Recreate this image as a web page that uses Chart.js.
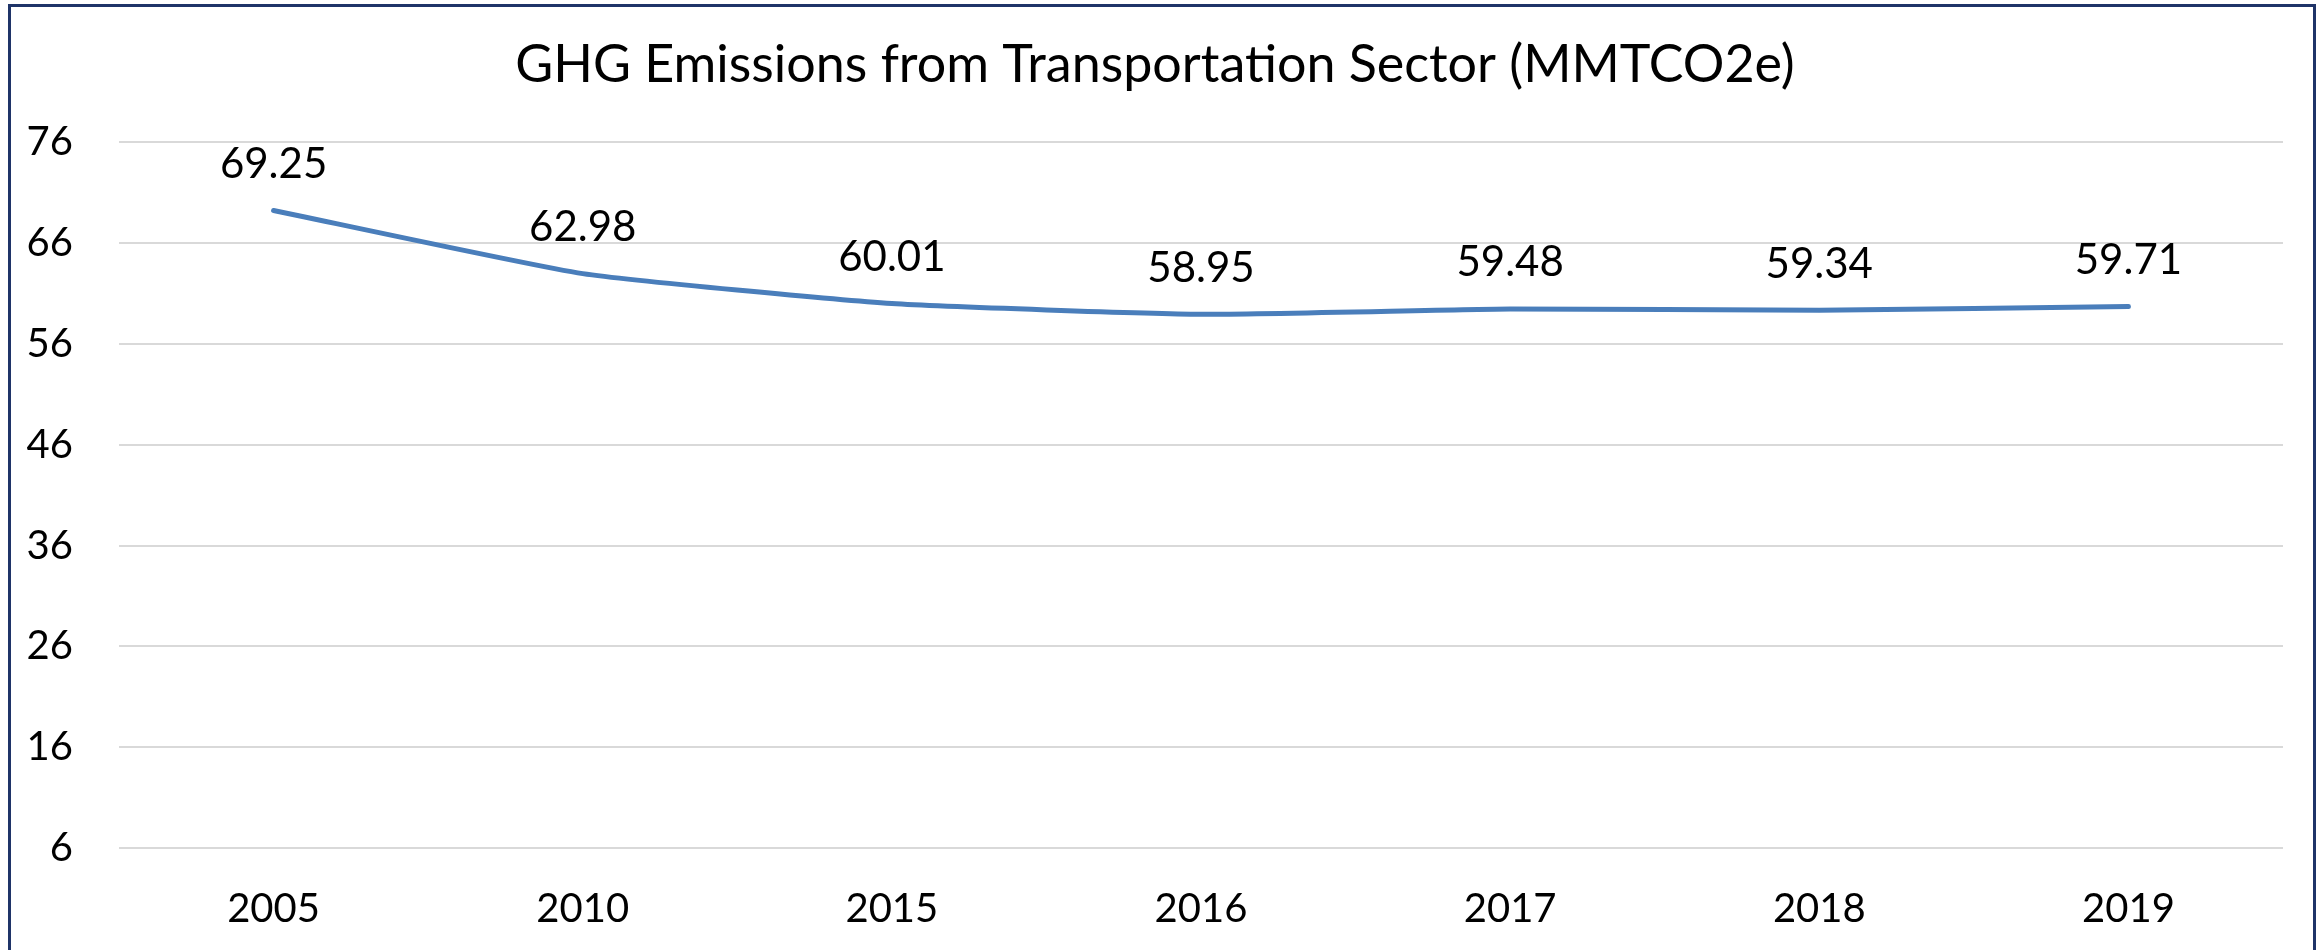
<!DOCTYPE html>
<html lang="en">
<head>
  <meta charset="UTF-8" />
  <title>GHG Emissions from Transportation Sector</title>
  <style>
    html, body {
      margin: 0;
      padding: 0;
      background: white;
      overflow: hidden;
    }
    #wrap {
      position: relative;
      width: 2323px;
      height: 950px;
    }
    #frame {
      position: absolute;
      left: 8px;
      top: 4px;
      width: 2302px;
      height: 1000px;
      border: 3px solid #1f3468;
      pointer-events: none;
    }
  </style>
</head>
<body>
  <div id="wrap">
    <canvas id="ghgChart" width="2323" height="950"></canvas>
    <div id="frame"></div>
  </div>

  <script src="https://cdn.jsdelivr.net/npm/chart.js"></script>
  <script>
    const years = ['2005', '2010', '2015', '2016', '2017', '2018', '2019'];
    const emissions = [69.25, 62.98, 60.01, 58.95, 59.48, 59.34, 59.71];
    const yTicks = [6, 16, 26, 36, 46, 56, 66, 76];

    const fontFamily = 'Lato, "Open Sans", sans-serif';

    // draws the value above each point, like the excel data labels
    const valueLabels = {
      id: 'valueLabels',
      afterDatasetsDraw(chart) {
        const ctx = chart.ctx;
        const meta = chart.getDatasetMeta(0);
        ctx.save();
        ctx.font = '42px ' + fontFamily;
        ctx.fillStyle = '#000';
        ctx.textAlign = 'center';
        ctx.textBaseline = 'middle';
        meta.data.forEach((pt, i) => {
          ctx.fillText(emissions[i].toFixed(2), pt.x, pt.y - 46);
        });
        ctx.restore();
      }
    };

    new Chart(document.getElementById('ghgChart').getContext('2d'), {
      type: 'line',
      data: {
        labels: years,
        datasets: [{
          label: 'MMTCO2e',
          data: emissions,
          borderColor: '#4a7ebb',
          borderWidth: 5,
          borderCapStyle: 'round',
          borderJoinStyle: 'round',
          pointRadius: 0,
          tension: 0.15,
          fill: false
        }]
      },
      options: {
        responsive: false,
        animation: false,
        layout: {
          padding: { left: 27, right: 40, top: 0, bottom: 0 }
        },
        plugins: {
          legend: { display: false },
          tooltip: { enabled: false },
          title: {
            display: true,
            text: 'GHG Emissions from Transportation Sector (MMTCO2e)',
            color: '#000',
            font: { family: fontFamily, size: 52, weight: 'normal' },
            padding: { top: 34, bottom: 46 }
          }
        },
        scales: {
          x: {
            offset: true,
            grid: { display: false, drawTicks: false },
            border: { display: false },
            ticks: {
              color: '#000',
              padding: 37,
              font: { family: fontFamily, size: 40 }
            },
            afterFit(scale) {
              // keep the axis box fixed so the plot area lines up
              scale.height = 102;
              scale.paddingLeft = 0;
              scale.paddingRight = 0;
            }
          },
          y: {
            min: yTicks[0],
            max: yTicks[yTicks.length - 1],
            afterBuildTicks(axis) {
              axis.ticks = yTicks.map(v => ({ value: v }));
            },
            grid: { color: '#d9d9d9', lineWidth: 2, drawTicks: false },
            border: { display: false },
            ticks: {
              color: '#000',
              padding: 46,
              font: { family: fontFamily, size: 40 }
            },
            afterFit(scale) {
              scale.width = 92;
              scale.paddingTop = 0;
              scale.paddingBottom = 0;
            }
          }
        }
      },
      plugins: [valueLabels]
    });
  </script>
</body>
</html>
